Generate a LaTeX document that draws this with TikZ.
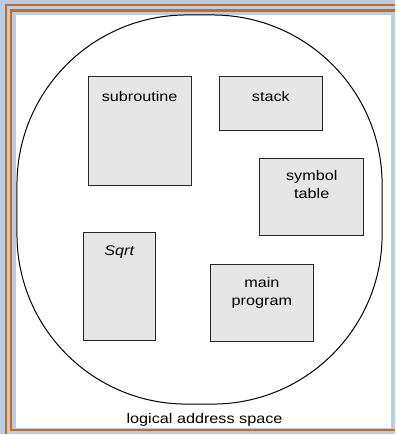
\documentclass[tikz,border=0pt]{standalone}
\usepackage{fontspec}
\setmainfont{Liberation Sans}[FakeStretch=1.16]
\usetikzlibrary{positioning}
\definecolor{frameblue}{RGB}{185,205,229}
\definecolor{frameorange}{RGB}{208,104,20}
\definecolor{segfill}{RGB}{230,230,230}
\begin{document}
\begin{tikzpicture}[x=1pt,y=-1pt,
  segbox/.style={draw=black!85,fill=segfill,line width=.9pt,anchor=north west,inner sep=0pt},
  seglabel/.style={font=\fontsize{14}{18}\selectfont,align=center,inner sep=0pt,anchor=north}]
  % frame round the slide
  \fill[frameblue] (0,0) rectangle (396,435);
  \fill[white] (16,15) rectangle (392,428.5);
  \draw[frameorange,line width=2pt] (6,435) -- (6,5) -- (396,5);
  \draw[frameorange,line width=2.5pt] (396,10.5) -- (11,10.5) -- (11,431) -- (396,431);
  % address space
  \node[draw,line width=1pt,rounded corners=170pt,minimum width=366pt,minimum height=390pt] (space) at (200,210) {};
  \node[seglabel,anchor=center] (title) at (205,421) {logical address space};
  % segments
  \node[segbox,minimum width=103pt,minimum height=109pt] (subroutine) at (88,76) {};
  \node[seglabel,below=15pt of subroutine.north] (subroutinetext) {subroutine};
  \node[segbox,minimum width=104pt,minimum height=54pt] (stack) at (219,76) {};
  \node[seglabel,below=15pt of stack.north] (stacktext) {stack};
  \node[segbox,minimum width=104pt,minimum height=78pt] (symtab) at (260,158) {};
  \node[seglabel,below=13pt of symtab.north] (symtabtext) {symbol\\table};
  \node[segbox,minimum width=72pt,minimum height=108pt] (sqrt) at (83,233) {};
  \node[seglabel,below=13pt of sqrt.north] (sqrttext) {\itshape Sqrt};
  \node[segbox,minimum width=104pt,minimum height=77pt] (main) at (210,265) {};
  \node[seglabel,below=13pt of main.north] (maintext) {main\\program};
\end{tikzpicture}
\end{document}
